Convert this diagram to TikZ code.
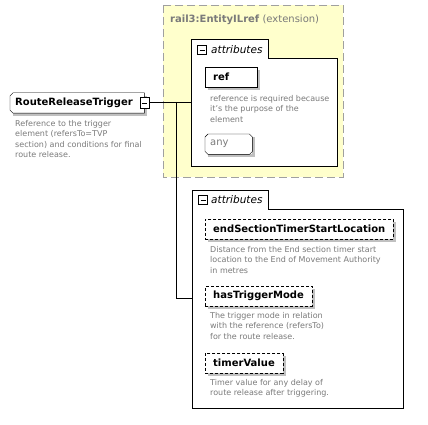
\documentclass[tikz,border=0pt]{standalone}
\usepackage{fontspec}
\setmainfont{DejaVu Sans}
\usetikzlibrary{shadows}
\definecolor{extfill}{HTML}{FFFFCC}
\definecolor{extline}{HTML}{A0A0A0}
\definecolor{desctext}{HTML}{7A7A7A}
\definecolor{shade}{HTML}{C0C0C0}

\begin{document}
\begin{tikzpicture}[x=1pt,y=-1pt,
    elem/.style={draw, fill=white, inner ysep=0pt, inner xsep=8pt, minimum height=20pt, anchor=north west,
      font=\bfseries\fontsize{10}{12}\selectfont,
      general shadow={fill=shade, shadow xshift=3pt, shadow yshift=-3pt}},
    opt/.style={elem, dash pattern=on 3pt off 2pt},
    cut/.style={elem, draw=none},
    desc/.style={anchor=north west, inner sep=0pt, align=left, text=desctext,
      font=\fontsize{8}{10.5}\selectfont},
    minus/.style={draw, fill=white, minimum width=9pt, minimum height=9pt, inner sep=0pt,
      path picture={\draw ([xshift=2pt]path picture bounding box.west) -- ([xshift=-2pt]path picture bounding box.east);}},
    tabtext/.style={anchor=west, inner sep=0pt, font=\itshape\fontsize{10.5}{12}\selectfont}]
  \useasboundingbox (0,0) rectangle (428,425);

  % extension base type
  \draw[extline, fill=extfill, dash pattern=on 8pt off 4pt] (163,5) rectangle (343,177);
  \node[anchor=west, inner sep=0pt, text=desctext, font=\fontsize{10}{12}\selectfont]
    (ext) at (170,20) {\textbf{rail3:EntityILref} (extension)};

  % attributes of the base type
  \draw[fill=white] (191,166) -- (191,39) -- (268,39) -- (268,58) -- (337,58) -- (337,166) -- cycle;
  \coordinate (att1) at (191,102);
  \node[minus] (att1pm) at (202,50) {};
  \node[tabtext] (att1t) at (211,50) {attributes};
  \node[elem, text width=36pt] (ref) at (205,67) {ref};
  \node[desc] (refd) at (210,95) {reference is required because\\it's the purpose of the\\element};
  \node[cut, font=\fontsize{10}{12}\selectfont, text=desctext, text width=37pt, inner xsep=5pt]
    (any) at (205,134) {any};
  \draw ([xshift=3pt]any.north west) -- ([xshift=-3pt]any.north east) -- ([yshift=-3pt]any.north east)
    -- ([yshift=3pt]any.south east) -- ([xshift=-3pt]any.south east) -- ([xshift=3pt]any.south west)
    -- ([yshift=3pt]any.south west) -- ([yshift=-3pt]any.north west) -- cycle;

  % the element
  \node[cut, text width=124pt, inner xsep=5pt, anchor=west] (rrt) at (10,103) {RouteReleaseTrigger};
  \draw ([xshift=3pt]rrt.north west) -- (rrt.north east) -- (rrt.south east) -- ([xshift=3pt]rrt.south west)
    -- ([yshift=3pt]rrt.south west) -- ([yshift=-3pt]rrt.north west) -- cycle;
  \node[minus, minimum height=11pt] (rrtpm) at (rrt.east) {};
  \node[desc] (rrtd) at (15,120) {Reference to the trigger\\element (refersTo=TVP\\section) and conditions for final\\route release.};

  % own attributes
  \draw[fill=white] (192,408) -- (192,190) -- (268,190) -- (268,209) -- (403,209) -- (403,408) -- cycle;
  \coordinate (att2) at (192,298);
  \node[minus] (att2pm) at (203,200) {};
  \node[tabtext] (att2t) at (211,200) {attributes};
  \node[opt] (ests) at (205,219) {endSectionTimerStartLocation};
  \node[desc] (estsd) at (210,246) {Distance from the End section timer start\\location to the End of Movement Authority\\in metres};
  \node[opt] (htm) at (205,286) {hasTriggerMode};
  \node[desc] (htmd) at (210,312) {The trigger mode in relation\\with the reference (refersTo)\\for the route release.};
  \node[opt] (tv) at (205,353) {timerValue};
  \node[desc] (tvd) at (210,379) {Timer value for any delay of\\route release after triggering.};

  % connectors
  \coordinate (fork) at (176,102);
  \draw (rrtpm.east |- att1) -- (att1);
  \draw (fork) |- (att2);
\end{tikzpicture}
\end{document}
